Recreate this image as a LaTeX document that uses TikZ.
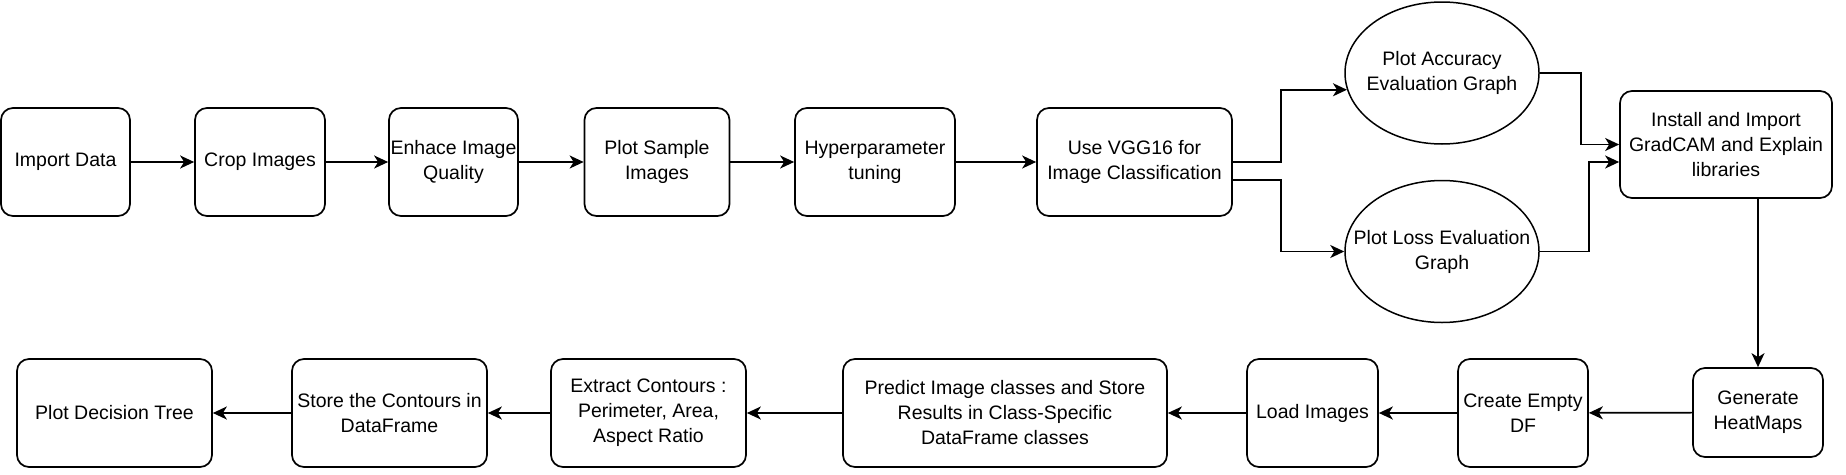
\documentclass[tikz,border=0pt]{standalone}
\usepackage{fontspec}
\setmainfont{Liberation Sans}
\usetikzlibrary{arrows.meta,shapes.geometric,calc}
\begin{document}
\begin{tikzpicture}[x=1pt,y=-1pt,
  every node/.style={font=\fontsize{19.5}{25}\selectfont, align=center, inner sep=0pt},
  box/.style={draw, line width=1.7pt, rounded corners=12pt, minimum height=108pt},
  oval/.style={draw, ellipse, line width=1.5pt, minimum width=194pt, minimum height=142pt},
  arr/.style={line width=1.7pt, -{Stealth[length=14pt,width=13pt,inset=4pt]}}
]
\useasboundingbox (0,0) rectangle (1846,474);
% top row
\node[box, minimum width=129pt] (imp) at (65.5,162) {Import Data};
\node[box, minimum width=130pt] (crop) at (260,162) {Crop Images};
\node[box, minimum width=129pt] (enh) at (453.5,162) {Enhace Image\\Quality};
\node[box, minimum width=145pt] (samp) at (657,162) {Plot Sample\\Images};
\node[box, minimum width=160pt] (hyp) at (875,162) {Hyperparameter\\tuning};
\node[box, minimum width=195pt] (vgg) at (1134.5,162) {Use VGG16 for\\Image Classification};
% ellipses
\node[oval] (acc) at (1442,73) {};
\node (acct) at (acc.center) {Plot Accuracy\\Evaluation Graph};
\node[oval] (loss) at (1442,251.5) {};
\node (losst) at (loss.center) {Plot Loss Evaluation\\Graph};
% gradcam
\node[box, minimum width=212pt, minimum height=107pt] (grad) at (1726,144.5) {Install and Import\\GradCAM and Explain\\libraries};
% bottom row
\node[box, minimum width=130pt, minimum height=89pt] (heat) at (1758,412.5) {Generate\\HeatMaps};
\node[box, minimum width=130pt] (cdf) at (1523,413) {Create Empty\\DF};
\node[box, minimum width=131pt] (load) at (1312.5,413) {Load Images};
\node[box, minimum width=324pt] (pred) at (1005,413) {Predict Image classes and Store\\Results in Class-Specific\\DataFrame classes};
\node[box, minimum width=195pt] (extr) at (648.5,413) {Extract Contours :\\Perimeter, Area,\\Aspect Ratio};
\node[box, minimum width=195pt] (stor) at (389.5,413) {Store the Contours in\\DataFrame};
\node[box, minimum width=195pt] (tree) at (114.5,413) {Plot Decision Tree};
% connectors top row
\draw[arr] (imp) -- (crop);
\draw[arr] (crop) -- (enh);
\draw[arr] (enh) -- (samp);
\draw[arr] (samp) -- (hyp);
\draw[arr] (hyp) -- (vgg);
\draw[arr] (vgg.east) -- ++(48,0) |- (acc.190);
\draw[arr] ([yshift=-18pt]vgg.east) -- ++(48,0) |- (loss.west);
\draw[arr] (acc.east) -- ++(41,0) |- (grad.west);
\draw[arr] (loss.east) -- ++(49,0) |- ([yshift=-17.5pt]grad.west);
\draw[arr] (heat.north |- grad.south) -- (heat.north);
% bottom row
\draw[arr] (heat) -- (cdf);
\draw[arr] (cdf) -- (load);
\draw[arr] (load) -- (pred);
\draw[arr] (pred) -- (extr);
\draw[arr] (extr) -- (stor);
\draw[arr] (stor) -- (tree);
\end{tikzpicture}
\end{document}
